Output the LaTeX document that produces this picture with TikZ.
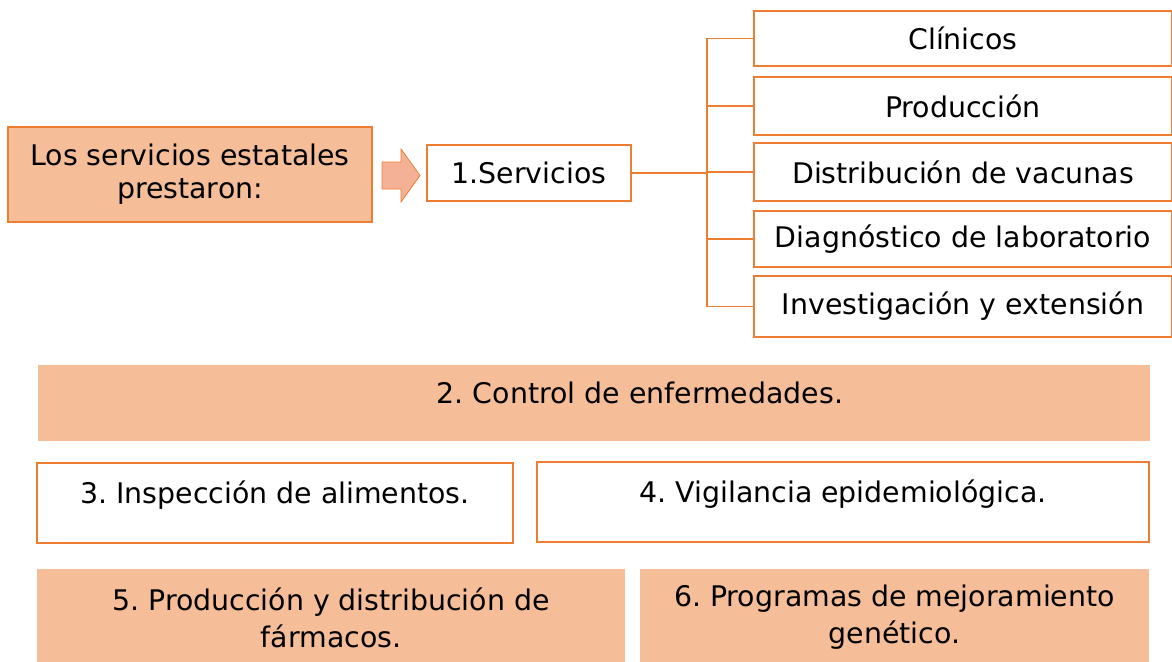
\documentclass[tikz,border=0pt]{standalone}
\usepackage{fontspec}
\setmainfont{DejaVu Sans}
\frenchspacing
\definecolor{peach}{HTML}{F6BE98}
\definecolor{orangeline}{HTML}{ED7D31}
\definecolor{arrowfill}{HTML}{F4B196}
\tikzset{
  box/.style={draw=orangeline, line width=2.6pt, fill=white, inner sep=0pt, align=center, font=\fontsize{28.4}{37}\selectfont},
  fillbox/.style={fill=peach, inner sep=0pt, align=center, font=\fontsize{28.4}{37}\selectfont},
  tlabel/.style={inner sep=0pt, text height=21pt, text depth=21pt, font=\fontsize{28.4}{37}\selectfont},
  link/.style={draw=orangeline, line width=1.2pt}
}
\begin{document}
\begin{tikzpicture}[x=1pt,y=-1pt]
		%%%%% START %%%%%
		\useasboundingbox (0,0) rectangle (1172,661);

		\node[fillbox, draw=orangeline, line width=1.2pt, minimum width=364, minimum height=95, font=\fontsize{28.4}{33}\selectfont] (lead) at (190,174.5) {Los servicios estatales\\prestaron:};

		\draw[draw=orangeline, fill=arrowfill, line width=0.8pt] (382,162) -- (401,162) -- (401,149) -- (420,175.5) -- (401,202) -- (401,189) -- (382,189) -- cycle;

		\node[box, minimum width=204, minimum height=56] (serv) at (529,173) {1.Servicios};

		\node[box, minimum width=418, minimum height=55] (clin) at (963,38.5) {Clínicos};
		\node[box, minimum width=418, minimum height=58] (prod) at (963,106) {Producción};
		\node[box, minimum width=418, minimum height=58] (dist) at (963,172) {Distribución de vacunas};
		\node[box, minimum width=418, minimum height=56] (diag) at (963,239) {Diagnóstico de laboratorio};
		\node[box, minimum width=418, minimum height=61] (inv) at (963,306.5) {Investigación y extensión};

		\coordinate (trunk) at (707,175);
		\draw[link] (serv.east) -- (trunk |- serv.east);
		\draw[link] (trunk |- clin.west) -- (trunk |- inv.west);
		\draw[link] (trunk |- clin.west) -- (clin.west);
		\draw[link] (trunk |- prod.west) -- (prod.west);
		\draw[link] (trunk |- dist.west) -- (dist.west);
		\draw[link] (trunk |- diag.west) -- (diag.west);
		\draw[link] (trunk |- inv.west) -- (inv.west);

		\node[fillbox, minimum width=1112, minimum height=76, label={[tlabel, xshift=46pt]center:2. Control de enfermedades.}] (ctrl) at (594,403) {};

		\node[box, text height=21pt, text depth=21pt, minimum width=476, minimum height=80] (insp) at (275,503) {3. Inspección de alimentos.};
		\node[box, text height=21pt, text depth=21pt, minimum width=612, minimum height=80] (vig) at (843,502) {4. Vigilancia epidemiológica.};

		\node[fillbox, minimum width=588, minimum height=97] (farm) at (331,617.5) {5. Producción y distribución de\\fármacos.};
		\node[fillbox, minimum width=509, minimum height=97] (gen) at (894.5,617.5) {6. Programas de mejoramiento\\genético.};
		%%%%% END %%%%%
	\end{tikzpicture}
\end{document}
